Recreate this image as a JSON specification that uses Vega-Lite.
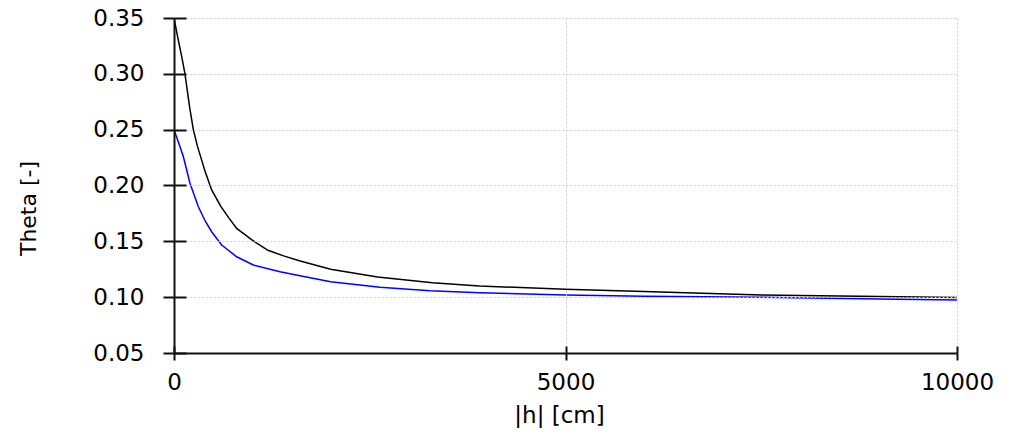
{
  "$schema": "https://vega.github.io/schema/vega-lite/v6.json",
  "autosize": {"type": "none"},
  "padding": {"left": 174, "top": 18, "right": 52, "bottom": 83},
  "width": 783,
  "height": 335,
  "background": "white",
  "config": {"view": {"stroke": null}},
  "data": {"values": [
    {"h": 0, "theta": 0.35, "s": "a"},
    {"h": 50, "theta": 0.332, "s": "a"},
    {"h": 100, "theta": 0.315, "s": "a"},
    {"h": 140, "theta": 0.3, "s": "a"},
    {"h": 200, "theta": 0.27, "s": "a"},
    {"h": 247, "theta": 0.25, "s": "a"},
    {"h": 300, "theta": 0.235, "s": "a"},
    {"h": 400, "theta": 0.212, "s": "a"},
    {"h": 481, "theta": 0.196, "s": "a"},
    {"h": 600, "theta": 0.181, "s": "a"},
    {"h": 700, "theta": 0.171, "s": "a"},
    {"h": 800, "theta": 0.1616, "s": "a"},
    {"h": 1000, "theta": 0.151, "s": "a"},
    {"h": 1200, "theta": 0.142, "s": "a"},
    {"h": 1400, "theta": 0.137, "s": "a"},
    {"h": 1600, "theta": 0.1326, "s": "a"},
    {"h": 2000, "theta": 0.125, "s": "a"},
    {"h": 2600, "theta": 0.118, "s": "a"},
    {"h": 3300, "theta": 0.113, "s": "a"},
    {"h": 3900, "theta": 0.11, "s": "a"},
    {"h": 5000, "theta": 0.107, "s": "a"},
    {"h": 6000, "theta": 0.105, "s": "a"},
    {"h": 7500, "theta": 0.102, "s": "a"},
    {"h": 9000, "theta": 0.1005, "s": "a"},
    {"h": 10000, "theta": 0.0998, "s": "a"},
    {"h": 0, "theta": 0.25, "s": "b"},
    {"h": 60, "theta": 0.238, "s": "b"},
    {"h": 119, "theta": 0.226, "s": "b"},
    {"h": 204, "theta": 0.202, "s": "b"},
    {"h": 311, "theta": 0.181, "s": "b"},
    {"h": 400, "theta": 0.168, "s": "b"},
    {"h": 481, "theta": 0.1586, "s": "b"},
    {"h": 609, "theta": 0.1467, "s": "b"},
    {"h": 800, "theta": 0.1362, "s": "b"},
    {"h": 1013, "theta": 0.1288, "s": "b"},
    {"h": 1354, "theta": 0.1228, "s": "b"},
    {"h": 1609, "theta": 0.1192, "s": "b"},
    {"h": 2000, "theta": 0.1138, "s": "b"},
    {"h": 2631, "theta": 0.1088, "s": "b"},
    {"h": 3270, "theta": 0.1058, "s": "b"},
    {"h": 3908, "theta": 0.104, "s": "b"},
    {"h": 5000, "theta": 0.1019, "s": "b"},
    {"h": 6000, "theta": 0.1008, "s": "b"},
    {"h": 7500, "theta": 0.0999, "s": "b"},
    {"h": 9000, "theta": 0.0984, "s": "b"},
    {"h": 10000, "theta": 0.0975, "s": "b"}
  ]},
  "layer": [
    {
      "transform": [{"filter": "datum.s === 'b'"}],
      "mark": {"type": "line", "color": "#0000ff", "strokeWidth": 1.5, "clip": true},
      "encoding": {
        "x": {"field": "h", "type": "quantitative",
          "scale": {"domain": [0, 10000], "nice": false, "zero": false},
          "axis": {"orient": "bottom", "values": [0, 5000, 10000], "labels": false, "title": null,
            "domain": false, "grid": true, "gridColor": "#cfcfcf", "gridDash": [2, 2], "gridWidth": 1,
            "tickSize": -7, "tickColor": "#111111", "tickWidth": 2, "zindex": 1}},
        "y": {"field": "theta", "type": "quantitative",
          "scale": {"domain": [0.05, 0.35], "nice": false, "zero": false},
          "axis": {"orient": "left", "values": [0.05, 0.1, 0.15, 0.2, 0.25, 0.3, 0.35], "labels": false, "title": null,
            "domain": false, "grid": true, "gridColor": "#cfcfcf", "gridDash": [2, 2], "gridWidth": 1,
            "tickSize": -12, "tickColor": "#111111", "tickWidth": 2, "zindex": 1}}
      }
    },
    {
      "transform": [{"filter": "datum.s === 'a'"}],
      "mark": {"type": "line", "color": "#000000", "strokeWidth": 1.5, "clip": true},
      "encoding": {
        "x": {"field": "h", "type": "quantitative",
          "scale": {"domain": [0, 10000], "nice": false, "zero": false},
          "axis": {"orient": "bottom", "values": [0, 5000, 10000], "format": "d",
            "grid": false, "domain": true, "domainColor": "#111111", "domainWidth": 2,
            "tickSize": 7, "tickColor": "#111111", "tickWidth": 2,
            "labelFont": "DejaVu Sans", "labelFontSize": 23, "labelColor": "#000000", "labelPadding": 11,
            "labelFlush": false,
            "title": "|h| [cm]", "titleFont": "DejaVu Sans", "titleFontSize": 23, "titleFontWeight": "normal",
            "titleColor": "#000000", "titleX": 385, "titleY": 62, "titleBaseline": "middle", "titleAlign": "center",
            "zindex": 2}},
        "y": {"field": "theta", "type": "quantitative",
          "scale": {"domain": [0.05, 0.35], "nice": false, "zero": false},
          "axis": {"orient": "left", "values": [0.05, 0.1, 0.15, 0.2, 0.25, 0.3, 0.35], "format": ".2f",
            "grid": false, "domain": true, "domainColor": "#111111", "domainWidth": 2,
            "tickSize": 11, "tickColor": "#111111", "tickWidth": 2,
            "labelFont": "DejaVu Sans", "labelFontSize": 23, "labelColor": "#000000", "labelPadding": 19,
            "labelFlush": false,
            "title": "Theta [-]", "titleFont": "DejaVu Sans", "titleFontSize": 22, "titleFontWeight": "normal",
            "titleColor": "#000000", "titleX": -146, "titleY": 190, "titleAngle": -90,
            "titleBaseline": "middle", "titleAlign": "center", "zindex": 2}}
      }
    }
  ],
  "resolve": {
    "scale": {"x": "independent", "y": "independent"},
    "axis": {"x": "independent", "y": "independent"}
  }
}
